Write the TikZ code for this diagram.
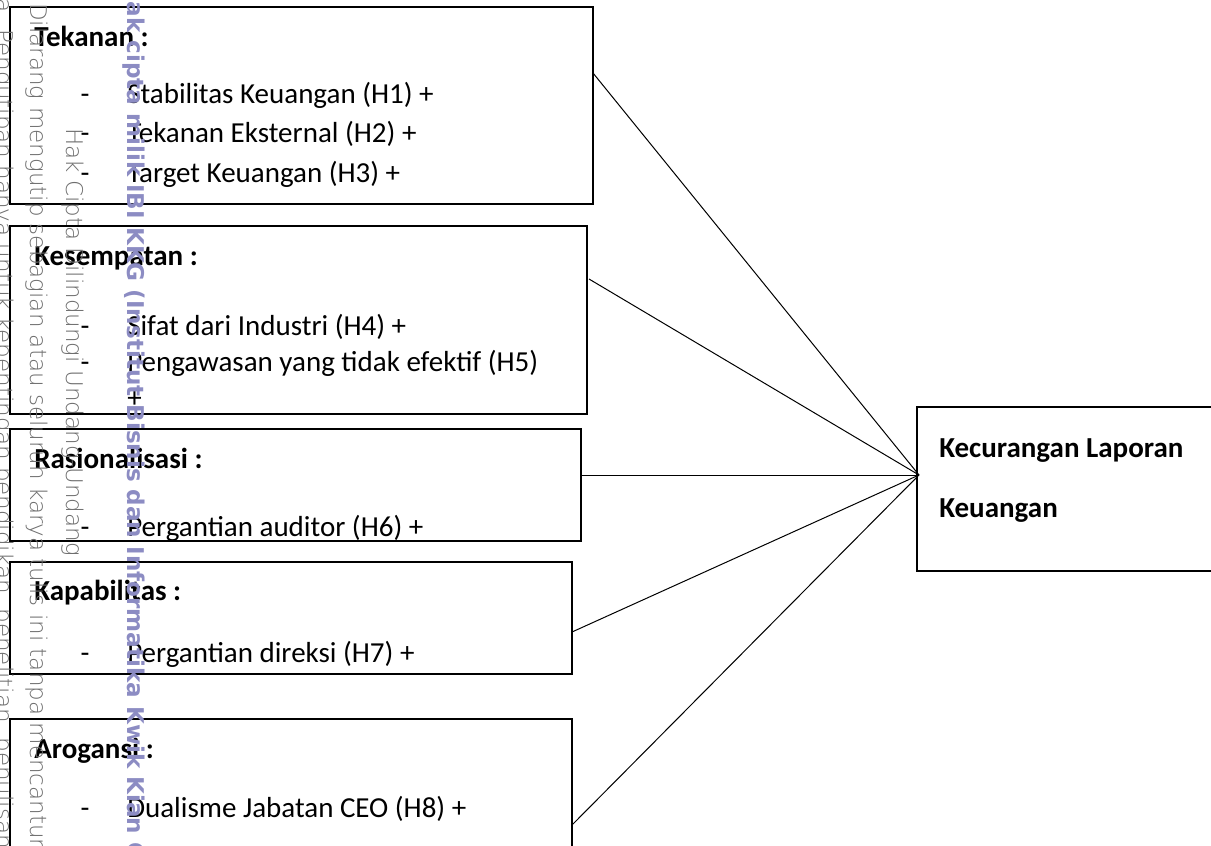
\documentclass[tikz,border=0pt]{standalone}
\usepackage{fontspec}
\setmainfont{Carlito}
\newfontfamily\wmlight{DejaVu Sans ExtraLight}
\newfontfamily\wmbold{DejaVu Sans Bold}
\usetikzlibrary{calc}
\definecolor{wmgray}{RGB}{110,110,110}
\definecolor{wmblue}{RGB}{140,140,195}
\newcommand{\bigtxt}{\fontsize{21.75}{26}\selectfont}
\begin{document}
\begin{tikzpicture}[x=0.75pt,y=-0.75pt,
  box/.style={draw, line width=1.5pt, anchor=north west, inner sep=0pt, outer sep=0pt},
  ttl/.style={anchor=base west, inner sep=0pt, font=\bigtxt\bfseries},
  itm/.style={anchor=base west, inner sep=0pt, font=\bigtxt},
  dsh/.style={anchor=base, inner sep=0pt, font=\bigtxt},
  conn/.style={line width=0.75pt},
  wm/.style={anchor=base west, rotate=-90, inner sep=0pt, text=wmgray, font=\wmlight\fontsize{17.25}{20}\selectfont},
  wmb/.style={anchor=base west, rotate=-90, inner sep=0pt, text=wmblue, font=\wmbold\fontsize{17.3}{20}\selectfont}]
\useasboundingbox (0,0) rectangle (1211,846);
% boxes
\node[box, minimum width={583*0.75pt}, minimum height={197*0.75pt}] (b1) at (10,7) {};
\node[box, minimum width={577*0.75pt}, minimum height={188*0.75pt}] (b2) at (10,226) {};
\node[box, minimum width={571*0.75pt}, minimum height={112*0.75pt}] (b3) at (10,429) {};
\node[box, minimum width={562*0.75pt}, minimum height={112*0.75pt}] (b4) at (10,562) {};
\node[box, minimum width={562*0.75pt}, minimum height={130*0.75pt}] (b5) at (10,719) {};
\node[box, minimum width={300*0.75pt}, minimum height={164*0.75pt}] (kl) at (917,407) {};
% box 1
\node[ttl] (t1) at (34,46) {Tekanan :};
\node[dsh] (d11) at (85,103) {-};
\node[itm] (i11) at (127,103) {Stabilitas Keuangan (H1) +};
\node[dsh] (d12) at (85,142) {-};
\node[itm] (i12) at (127,142) {Tekanan Eksternal (H2) +};
\node[dsh] (d13) at (85,182) {-};
\node[itm] (i13) at (127,182) {Target Keuangan (H3) +};
% box 2
\node[ttl] (t2) at (34,265) {Kesempatan :};
\node[dsh] (d21) at (85,335) {-};
\node[itm] (i21) at (127,335) {Sifat dari Industri (H4) +};
\node[dsh] (d22) at (85,371) {-};
\node[itm] (i22) at (127,371) {Pengawasan yang tidak efektif (H5)};
\node[itm] (i23) at (127,407) {+};
% box 3
\node[ttl] (t3) at (34,468) {Rasionalisasi :};
\begin{scope}
\clip (b3.north west) rectangle (b3.south east);
\node[dsh] (d31) at (85,536) {-};
\node[itm] (i31) at (127,536) {Pergantian auditor (H6) +};
\end{scope}
% box 4
\node[ttl] (t4) at (34,600) {Kapabilitas :};
\node[dsh] (d41) at (85,662) {-};
\node[itm] (i41) at (127,662) {Pergantian direksi (H7) +};
% box 5
\node[ttl] (t5) at (34,758) {Arogansi :};
\node[dsh] (d51) at (85,817) {-};
\node[itm] (i51) at (127,817) {Dualisme Jabatan CEO (H8) +};
% right box
\node[ttl] (k1) at (939,457) {Kecurangan Laporan};
\node[ttl] (k2) at (939,517) {Keuangan};
% connectors
\coordinate (c) at ($(kl.north west)+(2,68)$);
\draw[conn] ($(b1.north east)+(0,66)$) -- (c);
\draw[conn] ($(b2.north east)+(2,53)$) -- (c);
\draw[conn] ($(b3.north east)+(0,46)$) -- (c);
\draw[conn] ($(b4.north east)+(0,70)$) -- (c);
\draw[conn] ($(b5.north east)+(0,106)$) -- (c);
% watermark
\node[wm] (w1) at (-3,-2) {a. Pengutipan hanya untuk kepentingan pendidikan, penelitian, penulisan};
\node[wm] (w2) at (31,3) {Dilarang mengutip sebagian atau seluruh karya tulis ini tanpa mencantumkan};
\node[wm] (w3) at (66,128) {Hak Cipta Dilindungi Undang-Undang};
\node[wmb] (w4) at (127,-18) {Hak cipta milik IBI KKG (Institut Bisnis dan Informatika Kwik Kian Gie)};
\end{tikzpicture}
\end{document}
